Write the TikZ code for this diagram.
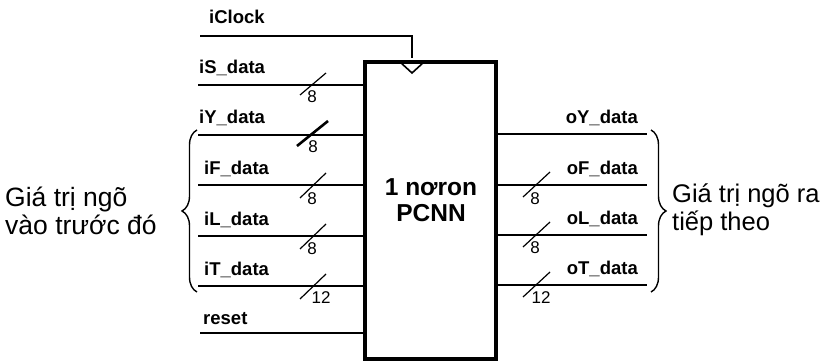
\documentclass[tikz,border=0pt]{standalone}
\usepackage{fontspec}
\setmainfont{Liberation Sans}
\usetikzlibrary{decorations.pathreplacing}
\begin{document}
\begin{tikzpicture}[x=1pt,y=-1pt,
  wire/.style={line width=2pt},
  lbl/.style={font=\fontsize{18.5}{20}\selectfont\bfseries, anchor=base west, inner sep=0},
  olbl/.style={font=\fontsize{18.5}{20}\selectfont\bfseries, anchor=base east, inner sep=0},
  bus/.style={line width=1.2pt},
  busthick/.style={line width=2.6pt},
  num/.style={font=\fontsize{17}{18}\selectfont, inner sep=0},
  brc/.style={decorate, decoration={brace, amplitude=15pt}, line width=1.4pt},
  side/.style={inner sep=0, align=left}]
\useasboundingbox (0,0) rectangle (824,363);
% main block
\node[draw, line width=4pt, minimum width=131pt, minimum height=297pt, inner sep=0] (box) at (430.5,210.5) {};
\node[align=center, inner sep=0, font=\fontsize{24.5}{26}\selectfont\bfseries] (title) at (431,200) {1 nơron\\PCNN};
% clock
\coordinate (ck) at (200,36);
\coordinate (ckend) at (412,58);
\draw[wire] (ck) -| (ckend);
\draw[line width=1.6pt] (400,62) -- (412,73) -- (424,62);
\node[lbl] (lck) at (209,24) {iClock};
% inputs
\coordinate (iS) at (198,85);
\coordinate (iY) at (198,135);
\coordinate (iF) at (198,185);
\coordinate (iL) at (198,236);
\coordinate (iT) at (198,286);
\coordinate (rs) at (200,333);
\foreach \c in {iS,iY,iF,iL,iT,rs} \draw[wire] (\c) -- (\c -| box.west);
\node[lbl] (liS) at (199,74) {iS\_data};
\node[lbl] (liY) at (199,124) {iY\_data};
\node[lbl] (liF) at (204,175) {iF\_data};
\node[lbl] (liL) at (204,226) {iL\_data};
\node[lbl] (liT) at (204,276) {iT\_data};
\node[lbl] (lrs) at (203,324) {reset};
% input bus slashes
\draw[bus] (300,95) -- (326,73);
\draw[busthick] (297,146) -- (328,121);
\draw[bus] (300,198) -- (326,173);
\draw[bus] (300,249) -- (326,224);
\draw[bus] (300,299) -- (326,274);
\node[num] (n1) at (312,97) {8};
\node[num] (n2) at (313,147) {8};
\node[num] (n3) at (312,199) {8};
\node[num] (n4) at (312,249) {8};
\node[num] (n5) at (321,298) {12};
% outputs
\coordinate (oY) at (647,134);
\coordinate (oF) at (647,185);
\coordinate (oL) at (647,235);
\coordinate (oT) at (647,285);
\foreach \c in {oY,oF,oL,oT} \draw[wire] (\c -| box.east) -- (\c);
\node[olbl] (loY) at (638,124) {oY\_data};
\node[olbl] (loF) at (638,175) {oF\_data};
\node[olbl] (loL) at (638,225) {oL\_data};
\node[olbl] (loT) at (638,275) {oT\_data};
\draw[bus] (523,197) -- (550,172);
\draw[bus] (523,247) -- (550,222);
\draw[bus] (523,297) -- (550,272);
\node[num] (m1) at (535,199) {8};
\node[num] (m2) at (535,248) {8};
\node[num] (m3) at (541,298) {12};
% braces
\coordinate (lb1) at (197,292);
\coordinate (lb2) at (197,130);
\draw[brc] (lb1) -- (lb2);
\coordinate (rb1) at (651,130);
\coordinate (rb2) at (651,292);
\draw[brc] (rb1) -- (rb2);
\node[side, anchor=west, font=\fontsize{26.5}{28}\selectfont] (lt) at (5,211) {Giá trị ngõ\\vào trước đó};
\node[side, anchor=west, font=\fontsize{25.5}{28}\selectfont] (rt) at (672,210) {Giá trị ngõ ra\\tiếp theo};
\end{tikzpicture}
\end{document}
